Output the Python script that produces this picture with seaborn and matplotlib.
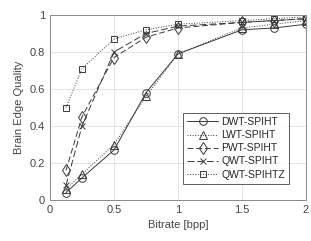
import numpy as np
import pandas as pd
import matplotlib
matplotlib.use("Agg")
import matplotlib.pyplot as plt
import seaborn as sns

# --- DATA ---
bitrate = [0.125, 0.25, 0.5, 0.75, 1.0, 1.5, 1.75, 2.0]
dwt_spiht = [0.04, 0.12, 0.27, 0.58, 0.79, 0.92, 0.93, 0.95]
lwt_spiht = [0.06, 0.14, 0.30, 0.56, 0.79, 0.93, 0.95, 0.97]
pwt_spiht = [0.16, 0.45, 0.77, 0.88, 0.93, 0.96, 0.97, 0.98]
qwt_spiht = [0.08, 0.40, 0.80, 0.90, 0.94, 0.96, 0.97, 0.98]
qwt_spihtz = [0.50, 0.71, 0.87, 0.92, 0.95, 0.97, 0.98, 0.99]

series = {
    "DWT-SPIHT": dwt_spiht,
    "LWT-SPIHT": lwt_spiht,
    "PWT-SPIHT": pwt_spiht,
    "QWT-SPIHT": qwt_spiht,
    "QWT-SPIHTZ": qwt_spihtz,
}
styles = {
    "DWT-SPIHT": dict(marker="o", linestyle="-", markersize=5.5),
    "LWT-SPIHT": dict(marker="^", linestyle=":", markersize=5.5),
    "PWT-SPIHT": dict(marker="d", linestyle=(0, (6, 3)), markersize=6),
    "QWT-SPIHT": dict(marker="x", linestyle=(0, (7, 3)), markersize=4.5),
    "QWT-SPIHTZ": dict(marker="s", linestyle=":", markersize=4.5),
}

sns.set_style("white")
plt.rcParams['font.family'] = ['Liberation Sans', 'DejaVu Sans']

fig = plt.figure(figsize=(3.11, 2.41), dpi=100)
ax = fig.add_axes([50 / 311, 41 / 241, 256 / 311, 185 / 241])

for name, vals in series.items():
    df = pd.DataFrame({"Bitrate": bitrate, "Quality": vals})
    st = styles[name]
    sns.lineplot(data=df, x="Bitrate", y="Quality", ax=ax, label=name,
                 color="#3a3a3a", linewidth=0.7, marker=st["marker"],
                 markersize=st["markersize"], markerfacecolor="none",
                 markeredgecolor="#3a3a3a", markeredgewidth=0.7)
    ax.lines[-1].set_linestyle(st["linestyle"])

ax.set_xlim(0, 2)
ax.set_ylim(0, 1)
ax.set_xticks([0, 0.5, 1, 1.5, 2])
ax.set_xticklabels(["0", "0.5", "1", "1.5", "2"])
ax.set_yticks([0, 0.2, 0.4, 0.6, 0.8, 1])
ax.set_yticklabels(["0", "0.2", "0.4", "0.6", "0.8", "1"])
ax.grid(True, color="#e0e0e0", linewidth=0.6)
ax.set_axisbelow(True)
ax.tick_params(direction="in", length=2.5, labelsize=8, colors="#444444", width=0.6)
for s in ax.spines.values():
    s.set_color("#888888")
    s.set_linewidth(0.7)
ax.set_xlabel("Bitrate [bpp]", fontsize=8, color="#444444")
ax.set_ylabel("Brain Edge Quality", fontsize=8, color="#444444")

leg = ax.legend(loc="lower right", fontsize=7.5, frameon=True, fancybox=False,
                edgecolor="#333333", handlelength=3.0, borderpad=0.4,
                labelspacing=0.3, handletextpad=0.3, bbox_to_anchor=(0.955, 0.06))
leg.get_frame().set_linewidth(0.7)

fig.savefig("out.png", dpi=100, facecolor="white")
